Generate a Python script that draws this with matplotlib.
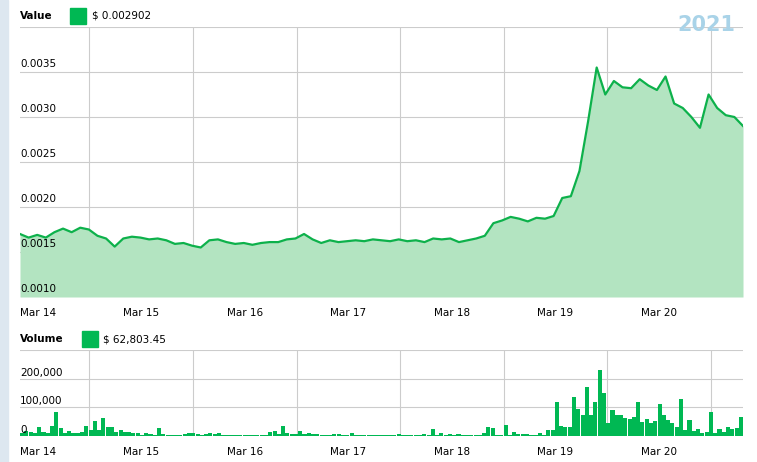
import numpy as np
import matplotlib.pyplot as plt
from matplotlib.transforms import blended_transform_factory

# price, every 2 hours (x1e-4 USD), starting ~Mar 13 20:00
price = [17.0, 16.6, 16.9, 16.6, 17.2, 17.6, 17.2, 17.7, 17.5, 16.8,
         16.5, 15.6, 16.5, 16.7, 16.6, 16.4, 16.5, 16.3, 15.9, 16.0,
         15.7, 15.5, 16.3, 16.4, 16.1, 15.9, 16.0, 15.8, 16.0, 16.1,
         16.1, 16.4, 16.5, 17.0, 16.4, 16.0, 16.3, 16.1, 16.2, 16.3,
         16.2, 16.4, 16.3, 16.2, 16.4, 16.2, 16.3, 16.1, 16.5, 16.4,
         16.5, 16.1, 16.3, 16.5, 16.8, 18.2, 18.5, 18.9, 18.7, 18.4,
         18.8, 18.7, 19.0, 21.0, 21.2, 24.0, 29.5, 35.5, 32.5, 34.0,
         33.3, 33.2, 34.2, 33.5, 33.0, 34.5, 31.5, 31.0, 30.0, 28.8,
         32.5, 31.0, 30.2, 30.0, 29.0]

# hourly volume (thousands USD)
volume = [10, 18, 15, 10, 30, 15, 10, 35, 85, 28, 12, 18, 10, 12, 14, 35,
          20, 52, 22, 62, 32, 30, 15, 22, 15, 15, 12, 10, 5, 12, 8, 3,
          28, 8, 3, 2, 3, 5, 8, 10, 12, 8, 5, 7, 10, 8, 10, 5, 3, 2, 5, 5,
          5, 3, 4, 3, 5, 3, 15, 18, 8, 35, 10, 8, 8, 18, 6, 10, 8, 6, 5, 5,
          5, 8, 6, 5, 4, 10, 5, 5, 4, 5, 3, 3,
          3, 3, 3, 3, 8, 3, 3, 3, 5, 3, 8, 3, 25, 3, 12, 3, 8, 2, 8, 3, 5,
          3, 5, 3, 12, 30, 28, 5, 3, 38, 5, 15, 8, 8, 8, 3, 3, 10, 5, 20,
          20, 120, 35, 30, 30, 135, 95, 72, 170, 75, 120, 230, 150, 45, 92,
          75, 75, 62, 58, 68, 118, 50, 58, 45, 52, 110, 72, 55, 45, 30, 130,
          20, 55, 18, 25, 12, 15, 85, 12, 25, 15, 30, 25, 28, 65]

days = ['Mar 14', 'Mar 15', 'Mar 16', 'Mar 17', 'Mar 18', 'Mar 19', 'Mar 20']

start, end = -0.17, 6.81
t_price = start + np.arange(len(price)) * (end - start) / (len(price) - 1)
bw = (end - start) / len(volume)
t_vol = start + (np.arange(len(volume)) + 0.5) * bw

line_c = '#0db14b'
fill_c = '#b3e4c1'
bar_c = '#00b853'
grid_c = '#cccccc'

fig = plt.figure(figsize=(7.57, 4.62), dpi=100)
fig.patches.append(plt.Rectangle((0, 0), 8 / 757, 1, transform=fig.transFigure,
                                 color='#dde7f0', zorder=-1))

ax1 = fig.add_axes([20 / 757, 1 - 297 / 462, 723 / 757, 270 / 462])
ax2 = fig.add_axes([20 / 757, 1 - 436 / 462, 723 / 757, 86 / 462])

p = np.array(price) * 1e-4
ax1.fill_between(t_price, p, 0.001, color=fill_c, lw=0)
ax1.plot(t_price, p, color=line_c, lw=1.6)
ax1.set_ylim(0.001, 0.004)
ax1.set_yticks(np.arange(0.001, 0.00401, 0.0005))

ax2.bar(t_vol, np.array(volume) * 1000, width=bw * 0.95, color=bar_c, lw=0)
ax2.set_ylim(0, 300000)
ax2.set_yticks([0, 100000, 200000, 300000])

for ax in (ax1, ax2):
    ax.set_xlim(start, end)
    ax.set_xticks(range(len(days)))
    ax.set_xticklabels(days, fontsize=7.5)
    ax.set_xticks(np.arange(0.5, 6.6, 1), minor=True)
    ax.grid(True, which='minor', axis='x', color=grid_c, lw=0.8)
    ax.grid(True, which='major', axis='y', color=grid_c, lw=0.8)
    ax.tick_params(length=0, which='both', pad=8)
    ax.set_yticklabels([])
    for s in ax.spines.values():
        s.set_visible(False)
    ax.set_axisbelow(True)

tr1 = blended_transform_factory(ax1.transAxes, ax1.transData)
for v in np.arange(0.001, 0.00351, 0.0005):
    ax1.text(0.0, v + 0.00003, f'{v:.4f}', transform=tr1, fontsize=7.5, va='bottom')
tr2 = blended_transform_factory(ax2.transAxes, ax2.transData)
for v in [0, 100000, 200000]:
    ax2.text(0.0, v + 3000, f'{v:,}', transform=tr2, fontsize=7.5, va='bottom')

fig.text(20 / 757, 1 - 16 / 462, 'Value', fontsize=7.5, weight='bold', va='center')
fig.patches.append(plt.Rectangle((70 / 757, 1 - 24 / 462), 16 / 757, 16 / 462,
                                 transform=fig.transFigure, color=bar_c))
fig.text(92 / 757, 1 - 16 / 462, '$ 0.002902', fontsize=7.5, va='center')
fig.text(20 / 757, 1 - 339 / 462, 'Volume', fontsize=7.5, weight='bold', va='center')
fig.patches.append(plt.Rectangle((82 / 757, 1 - 347 / 462), 16 / 757, 16 / 462,
                                 transform=fig.transFigure, color=bar_c))
fig.text(103 / 757, 1 - 339 / 462, '$ 62,803.45', fontsize=7.5, va='center')
fig.text(735 / 757, 1 - 25 / 462, '2021', fontsize=15, weight='bold',
         color='#a9d3e8', ha='right', va='center')

fig.savefig('out.png', dpi=100)
